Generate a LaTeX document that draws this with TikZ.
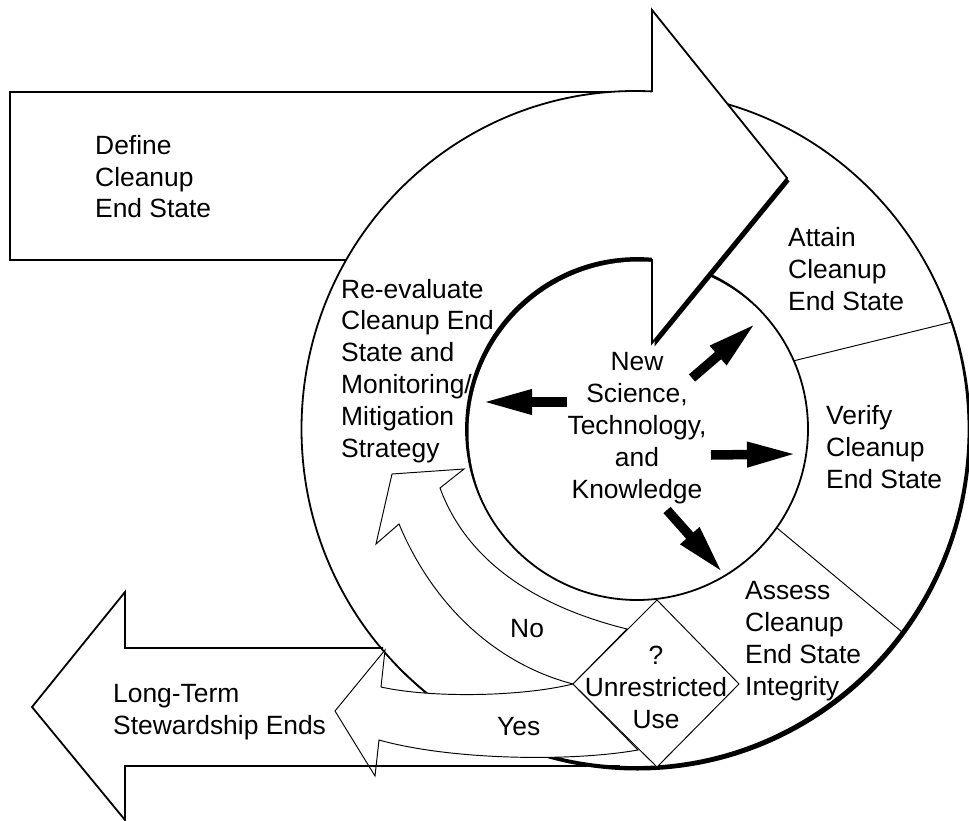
\documentclass[tikz,border=0pt]{standalone}
\usepackage{fontspec}
\setmainfont{Liberation Sans}
\usetikzlibrary{arrows.meta}
\begin{document}
\begin{tikzpicture}[x=1pt,y=-1pt,
  txt/.style={inner sep=0pt, font=\fontsize{26.4}{31.8}\selectfont, align=left, anchor=base west},
  ctxt/.style={inner sep=0pt, font=\fontsize{26.4}{31.8}\selectfont, align=center, anchor=base},
  heavy/.style={line width=1.8pt, line join=miter},
  light/.style={line width=0.95pt, line join=miter},
  kbarrow/.style={line width=9.5pt, -{Triangle[length=50pt,width=23pt]}},
]
\useasboundingbox (0,0) rectangle (969,821);
% named points
\coordinate (C) at (635,429);
\coordinate (Ci) at (637,429);
\coordinate (d1a) at (793,361); \coordinate (d1b) at (952,322);
\coordinate (d2a) at (777,528); \coordinate (d2b) at (902,632);
\coordinate (a1s) at (567,402); \coordinate (a1e) at (482,402);
\coordinate (a2s) at (692,378); \coordinate (a2e) at (756,323);
\coordinate (a3s) at (711,455); \coordinate (a3e) at (797,454);
\coordinate (a4s) at (667,510); \coordinate (a4e) at (723,573);
% Define arrow body
\filldraw[heavy, fill=white] (10,92) rectangle (652,260);
% Long-term arrow fill
\fill[white] (640,648) -- (125,648) -- (125,592) -- (32,707) -- (125,820) -- (125,766) -- (640,766) -- cycle;
% outer ring with shadow
\fill[black] ([shift={(2.5,3.5)}]C) ellipse [x radius=333.5, y radius=338];
\filldraw[heavy, fill=white] (C) ellipse [x radius=333.5, y radius=338];
% inner hole with inset shadow
\begin{scope}
  \clip (Ci) circle [radius=171];
  \fill[black] (Ci) circle [radius=171];
  \fill[white] ([shift={(2.5,3.5)}]Ci) circle [radius=171];
\end{scope}
\draw[heavy] (Ci) circle [radius=171];
% sector dividers
\draw[light] (d1a) -- (d1b);
\draw[light] (d2a) -- (d2b);
% No band
\filldraw[light, fill=white] (573,684) .. controls (500,665) and (435,610) .. (399,524)
  -- (376,544) -- (392,474) -- (464,469) -- (440,488)
  .. controls (470,570) and (550,610) .. (627,629) -- cycle;
% Yes band
\filldraw[light, fill=white] (573,684) .. controls (520,697) and (430,698) .. (381,687)
  -- (385,650) -- (335,711) -- (375,776) -- (379,740)
  .. controls (450,760) and (570,762) .. (638,750) -- cycle;
% decision diamond
\filldraw[light, fill=white] (657,600) -- (739,684) -- (657,767) -- (573,684) -- cycle;
% Long-term arrow outline
\draw[heavy] (383,648) -- (125,648) -- (125,592) -- (32,707) -- (125,820) -- (125,766) -- (620,766);
% Define arrow head with shadow
\fill[black, shift={(2.5,3.5)}] (652,10) -- (787,178) -- (652,343) -- cycle;
\fill[white] (652,92) -- (652,10) -- (787,178) -- (652,343) -- (652,259) -- cycle;
\draw[heavy] (652,92) -- (652,10) -- (787,178) -- (652,343) -- (652,259);
% black arrows
\draw[kbarrow] (a1s) -- (a1e);
\draw[kbarrow] (a2s) -- (a2e);
\draw[kbarrow] (a3s) -- (a3e);
\draw[kbarrow] (a4s) -- (a4e);
% texts (anchor = baseline of the last line)
\node[txt] (define) at (95,218) {Define\\Cleanup\\End State};
\node[txt] (attain) at (788,310) {Attain\\Cleanup\\End State};
\node[txt] (reeval) at (341,457) {Re-evaluate\\Cleanup End\\State and\\Monitoring/\\Mitigation\\Strategy};
\node[ctxt] (newsci) at (637,498) {New\\Science,\\Technology,\\and\\Knowledge};
\node[txt] (verify) at (826,488) {Verify\\Cleanup\\End State};
\node[txt] (assess) at (745,695) {Assess\\Cleanup\\End State\\Integrity};
\node[ctxt] (q) at (656,728) {?\\Unrestricted\\Use};
\node[txt] (no) at (510,637) {No};
\node[txt] (yes) at (497,735) {Yes};
\node[txt] (lts) at (113,734) {Long-Term\\Stewardship Ends};
\end{tikzpicture}
\end{document}
